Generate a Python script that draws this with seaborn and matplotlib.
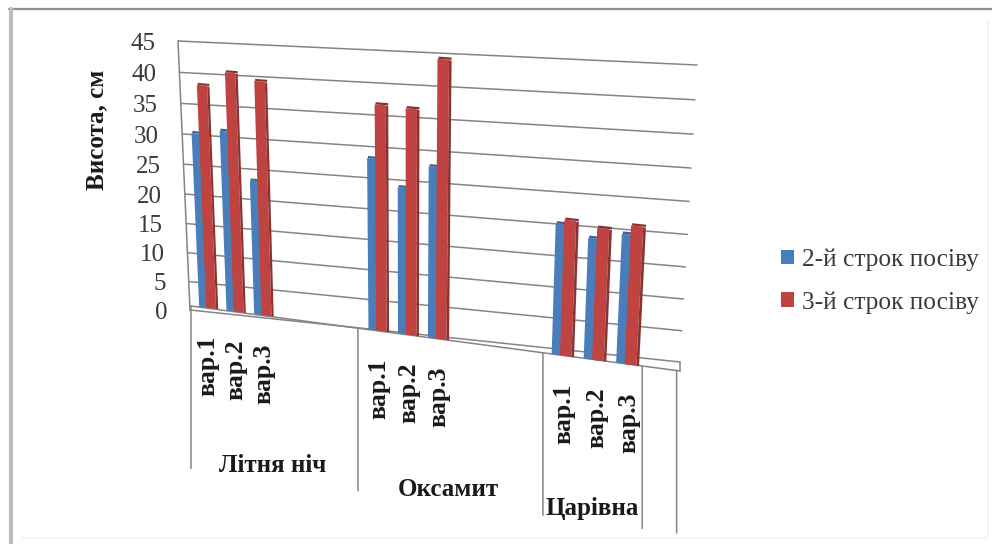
import numpy as np
import pandas as pd
import matplotlib
matplotlib.use("Agg")
import matplotlib.pyplot as plt
from matplotlib.patches import Rectangle
from matplotlib.transforms import Transform, Affine2D
import seaborn as sns

# Plant height by variety, variant and sowing date
slots = [0, 1, 2, 6, 7, 8, 12, 13, 14]
variant_labels = ["вар.1", "вар.2", "вар.3"] * 3
group_labels = ["Літня ніч", "Оксамит", "Царівна"]
group_edges = [-0.5, 5.35, 11.35, 14.38, 15.4]
series_names = ["2-й строк посіву", "3-й строк посіву"]
height_second = [29.6, 30.4, 22.7, 28.25, 24.1, 27.9, 21.0, 19.3, 20.5]
height_third = [37.5, 39.9, 38.9, 36.8, 36.6, 44.5, 21.7, 21.0, 21.9]
y_ticks = list(range(0, 50, 5))
face_colors = ["#4A7EBB", "#BF4340"]
side_colors = ["#3A6291", "#8A3432"]

U_MIN, U_MAX, V_MIN, V_MAX = -0.5, 15.5, 0, 45
W, H = 992, 544
LINE = "#858585"


class Perspective(Transform):
    """Homography from (slot, height) onto a tilted plane given in pixels."""
    input_dims = output_dims = 2
    is_separable = False

    def __init__(self, bl, br, tl, tr):
        super().__init__()
        src = [(U_MIN, V_MIN), (U_MAX, V_MIN), (U_MIN, V_MAX), (U_MAX, V_MAX)]
        rows, rhs = [], []
        for (u, v), (x, y) in zip(src, [bl, br, tl, tr]):
            rows.append([u, v, 1, 0, 0, 0, -u * x, -v * x])
            rows.append([0, 0, 0, u, v, 1, -u * y, -v * y])
            rhs += [x, y]
        self.m = np.append(np.linalg.solve(np.array(rows, float), np.array(rhs, float)), 1).reshape(3, 3)

    def transform_non_affine(self, values):
        values = np.asarray(values, float)
        hom = np.column_stack([values, np.ones(len(values))]) @ self.m.T
        return hom[:, :2] / hom[:, 2:]


sns.set_theme(style="white")
plt.rcParams["font.family"] = ["Liberation Serif", "DejaVu Serif"]

fig = plt.figure(figsize=(W / 100, H / 100), dpi=100, facecolor="white")
ax = fig.add_axes([0, 0, 1, 1])
ax.set_axis_off()
ax.set_xlim(U_MIN, U_MAX)
ax.set_ylim(V_MIN, V_MAX)

# Pixel space with the origin at the top left
pixels = Affine2D().scale(1, -1).translate(0, H)
wall = Perspective((190, 310), (680, 362), (178, 41), (697, 65)) + pixels
front = Perspective((191, 306), (680, 371), (179, 37), (697, 74)) + pixels
bar_plane = Perspective((194, 306), (676, 371), (182, 37), (693, 74)) + pixels
label_plane = Perspective((195, 306), (680, 371), (183, 37), (697, 74)) + pixels

# Chart frame: a grey edge on two sides, a faint one on the others
fig.add_artist(plt.Line2D([22, 988, 988], [538, 538, 20], transform=pixels, color="#F6F6F6", lw=1.5))
fig.add_artist(plt.Line2D([9, 992], [9, 9], transform=pixels, color="#8F8F8F", lw=1.6))
fig.add_artist(plt.Line2D([11, 11], [9, 544], transform=pixels, color="#BDBDBD", lw=3))

# Gridlines on the back wall, then the left axis and the floor
for v in y_ticks:
    ax.plot([U_MIN, U_MAX], [v, v], transform=wall, color=LINE, lw=1.1, clip_on=False, zorder=1)
ax.plot([U_MIN, U_MIN], [V_MIN, V_MAX], transform=wall, color=LINE, lw=1.1, clip_on=False, zorder=1)
ax.plot([U_MIN, U_MAX], [0, 0], transform=front, color=LINE, lw=1.1, clip_on=False, zorder=1)
ax.annotate("", xy=(U_MAX, 0), xycoords=wall, xytext=(U_MAX, 0), textcoords=front,
            arrowprops=dict(arrowstyle="-", color=LINE, lw=1.1, shrinkA=0, shrinkB=0),
            annotation_clip=False)

# Bars, the later series overlapping the earlier one
frame = pd.DataFrame({"slot": slots * 2,
                      "height": height_second + height_third,
                      "series": np.repeat(series_names, len(slots))})
BAR_WIDTH = 0.36
SIDE = 0.08
for name, shift, face, side in zip(series_names, (-0.13, 0.13), face_colors, side_colors):
    part = frame[frame["series"] == name]
    before = len(ax.patches)
    sns.barplot(data=part, x=part["slot"] + shift, y="height", native_scale=True,
                width=BAR_WIDTH, color=face, saturation=1, errorbar=None, ax=ax, legend=False)
    for bar in ax.patches[before:]:
        bar.set_transform(bar_plane)
        bar.set_clip_on(False)
        bar.set_linewidth(0)
        bar.set_zorder(3 + shift)
        x, w, h = bar.get_x(), bar.get_width(), bar.get_height()
        ax.add_patch(Rectangle((x + w, 0), SIDE, h - 0.1, transform=bar_plane, facecolor=side,
                               edgecolor="none", clip_on=False, zorder=3 + shift))
        ax.add_patch(Rectangle((x + 0.03, h), w + SIDE - 0.03, 0.35, transform=bar_plane, facecolor=side,
                               edgecolor="none", clip_on=False, zorder=3 + shift))
ax.set_xlim(U_MIN, U_MAX)
ax.set_ylim(V_MIN, V_MAX)
ax.set_xlabel("")
ax.set_ylabel("")

# Height tick labels beside the axis
for v in y_ticks:
    ax.annotate(str(v), xy=(U_MIN, v), xycoords=wall, xytext=(-16.5, -2), textcoords="offset points",
                ha="right", va="center", fontsize=18, color="#3A3A3A", annotation_clip=False)

fig.text(97, 130, "Висота, см", transform=pixels, rotation=90, ha="center", va="center",
         fontsize=18, fontweight="bold", color="#1A1A1A")

# Variant labels and the group dividers below the floor
for slot, label in zip(slots, variant_labels):
    ax.annotate(label, xy=(slot, 0), xycoords=label_plane, xytext=(-0.5, -20), textcoords="offset points",
                rotation=90, ha="center", va="top", fontsize=18.5, fontweight="bold",
                color="#1A1A1A", annotation_clip=False)

for edge in group_edges:
    ax.annotate("", xy=(edge, 0), xycoords=front, xytext=(0, -117), textcoords="offset points",
                arrowprops=dict(arrowstyle="-", color=LINE, lw=1.1, shrinkA=0, shrinkB=0),
                annotation_clip=False)

for label, left, right in zip(group_labels, group_edges[:-1], group_edges[1:]):
    ax.annotate(label, xy=((left + right) / 2, 0), xycoords=front, xytext=(0, -99),
                textcoords="offset points", ha="center", va="top", fontsize=18,
                fontweight="bold", color="#1A1A1A", annotation_clip=False)

# Legend on the right
handles = [Rectangle((0, 0), 1, 1, facecolor=c, edgecolor="none") for c in face_colors]
ax.legend(handles, series_names, loc="center left", bbox_to_anchor=(781 / W, 1 - 281 / H),
          bbox_transform=fig.transFigure, frameon=False, fontsize=18.3, labelcolor="#3A3A3A",
          handlelength=0.5, handleheight=0.5, handletextpad=0.32, labelspacing=0.79,
          borderpad=0, borderaxespad=0)

fig.savefig("out.png", dpi=100, facecolor=fig.get_facecolor())
